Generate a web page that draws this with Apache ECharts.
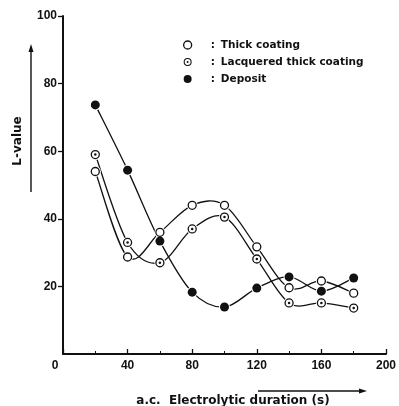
<!DOCTYPE html>
<html>
<head>
<meta charset="utf-8">
<script src="https://cdn.jsdelivr.net/npm/echarts@6/dist/echarts.min.js"></script>
<style>
  html, body { margin: 0; padding: 0; background: #fff; }
  #chart { width: 399px; height: 406px; }
</style>
</head>
<body>
<div id="chart"></div>
<script>
// L-value vs a.c. electrolytic duration
const durations = [20, 40, 60, 80, 100, 120, 140, 160, 180];
const thickCoating = [54, 28.7, 36, 44, 44, 31.7, 19.6, 21.6, 18];
const lacqueredCoating = [59, 33, 27, 37, 40.5, 28.1, 15.1, 15.1, 13.6];
const deposit = [73.7, 54.4, 33.4, 18.3, 13.9, 19.5, 22.8, 18.6, 22.5];
const seriesNames = ['Thick coating', 'Lacquered thick coating', 'Deposit'];

// ring with a dot in the middle (legend icon for lacquered)
const dotRing = 'path://M10,0 A10,10 0 1,1 10,20 A10,10 0 1,1 10,0 Z ' +
  'M10,2.6 A7.4,7.4 0 1,0 10,17.4 A7.4,7.4 0 1,0 10,2.6 Z ' +
  'M10,7.6 A2.4,2.4 0 1,1 10,12.4 A2.4,2.4 0 1,1 10,7.6 Z';

const ink = '#111';
const font = 'DejaVu Sans';

function pairs(vals) {
  return durations.map(function(d, i) { return [d, vals[i]]; });
}

// hand-drawn looking curve: one bezier segment per data item (catmull-rom)
function curveSeries(vals) {
  return {
    type: 'custom',
    silent: true,
    z: 2,
    data: pairs(vals),
    renderItem: function(params, api) {
      const i = params.dataIndex;
      if (i >= vals.length - 1) return null;
      const p = function(k) {
        k = Math.max(0, Math.min(vals.length - 1, k));
        return api.coord([durations[k], vals[k]]);
      };
      const p0 = p(i - 1), p1 = p(i), p2 = p(i + 1), p3 = p(i + 2);
      return {
        type: 'bezierCurve',
        shape: {
          x1: p1[0], y1: p1[1], x2: p2[0], y2: p2[1],
          cpx1: p1[0] + (p2[0] - p0[0]) / 6, cpy1: p1[1] + (p2[1] - p0[1]) / 6,
          cpx2: p2[0] - (p3[0] - p1[0]) / 6, cpy2: p2[1] - (p3[1] - p1[1]) / 6
        },
        style: { fill: null, stroke: ink, lineWidth: 1.3 }
      };
    }
  };
}

function haloSeries(vals) {
  return {
    type: 'scatter', silent: true, z: 3,
    data: pairs(vals), symbolSize: 11,
    itemStyle: { color: '#fff', opacity: 1 }
  };
}

function renderChart() {
  const chart = echarts.init(document.getElementById('chart'));
  const openStyle = { color: '#fff', borderColor: ink, borderWidth: 1.3, opacity: 1 };
  const fullStyle = { color: ink, borderWidth: 0, opacity: 1 };
  const option = {
    animation: false,
    grid: { left: 63, right: 13, top: 16, bottom: 52 },
    legend: {
      orient: 'vertical',
      left: 178,
      top: 34,
      itemWidth: 8,
      itemHeight: 8,
      itemGap: 5,
      selectedMode: false,
      formatter: function(name) { return '{c|:}{t|' + name + '}'; },
      textStyle: {
        fontFamily: font, fontSize: 10.5, fontWeight: 'bold', color: ink, lineHeight: 12,
        rich: {
          c: { padding: [0, 6, 0, 14], fontFamily: font, fontSize: 10.5, color: ink },
          t: { fontFamily: font, fontSize: 10.5, fontWeight: 'bold', color: ink }
        }
      },
      data: [
        { name: seriesNames[0], icon: 'circle', itemStyle: openStyle },
        { name: seriesNames[1], icon: dotRing, itemStyle: fullStyle },
        { name: seriesNames[2], icon: 'circle', itemStyle: fullStyle }
      ]
    },
    xAxis: {
      type: 'value',
      min: 0, max: 200, interval: 40,
      splitLine: { show: false },
      axisLine: { lineStyle: { color: ink, width: 2 } },
      axisTick: { inside: true, length: 5, lineStyle: { color: ink, width: 1.3 } },
      minorTick: { show: true, splitNumber: 2, length: 3, lineStyle: { color: ink } },
      axisLabel: {
        color: ink, fontFamily: 'Liberation Sans', fontSize: 12, fontWeight: 'bold', margin: 6,
        formatter: function(v) { return v === 0 ? '{z|0}' : String(v); },
        rich: { z: { padding: [0, 16, 0, 0], fontFamily: 'Liberation Sans', fontSize: 12, fontWeight: 'bold', color: ink } }
      }
    },
    yAxis: {
      type: 'value',
      min: 0, max: 100, interval: 20,
      splitLine: { show: false },
      axisLine: { lineStyle: { color: ink, width: 2 } },
      axisTick: { length: 5, lineStyle: { color: ink, width: 1.3 } },
      axisLabel: {
        showMinLabel: false,
        color: ink, fontFamily: 'Liberation Sans', fontSize: 12, fontWeight: 'bold', margin: 6
      }
    },
    series: [
      curveSeries(thickCoating),
      curveSeries(lacqueredCoating),
      curveSeries(deposit),
      haloSeries(thickCoating),
      haloSeries(lacqueredCoating),
      haloSeries(deposit),
      {
        name: seriesNames[0], type: 'scatter', z: 4,
        data: pairs(thickCoating), symbol: 'circle', symbolSize: 8,
        itemStyle: openStyle
      }, {
        name: seriesNames[1], type: 'scatter', z: 4,
        data: pairs(lacqueredCoating), symbol: 'circle', symbolSize: 8,
        itemStyle: openStyle
      }, {
        type: 'scatter', z: 5, silent: true,
        data: pairs(lacqueredCoating), symbol: 'circle', symbolSize: 2.5,
        itemStyle: fullStyle
      }, {
        name: seriesNames[2], type: 'scatter', z: 4,
        data: pairs(deposit), symbol: 'circle', symbolSize: 9,
        itemStyle: fullStyle
      }
    ],
    graphic: [
      // y-axis name with arrow
      { type: 'text', x: 18, y: 141, rotation: Math.PI / 2,
        style: { text: 'L-value', font: 'bold 12px DejaVu Sans', fill: ink, align: 'center', verticalAlign: 'middle' } },
      { type: 'line', shape: { x1: 31, y1: 192, x2: 31, y2: 50 }, style: { stroke: ink, lineWidth: 1.4 } },
      { type: 'polygon', shape: { points: [[31, 44], [28.5, 52], [33.5, 52]] }, style: { fill: ink } },
      // x-axis name with arrow
      { type: 'text', x: 233, y: 401,
        style: { text: 'a.c.  Electrolytic duration (s)', font: 'bold 12px DejaVu Sans', fill: ink, align: 'center', verticalAlign: 'middle' } },
      { type: 'line', shape: { x1: 258, y1: 391, x2: 360, y2: 391 }, style: { stroke: ink, lineWidth: 1.4 } },
      { type: 'polygon', shape: { points: [[367, 391], [359, 388.5], [359, 393.5]] }, style: { fill: ink } }
    ]
  };
  chart.setOption(option, true);
}

renderChart();
</script>
</body>
</html>
